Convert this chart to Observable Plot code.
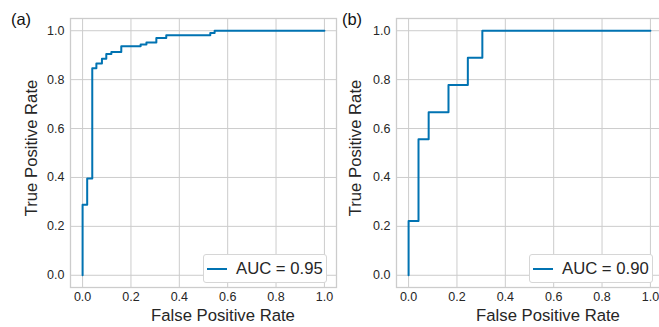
<!DOCTYPE html>
<html><head><meta charset="utf-8">
<script src="https://cdn.jsdelivr.net/npm/d3@7"></script>
<script src="https://cdn.jsdelivr.net/npm/@observablehq/plot@0.6"></script>
<style>
html,body{margin:0;padding:0;background:#fff;overflow:hidden;}
#wrap{position:relative;width:659px;height:327px;overflow:hidden;font-family:"Liberation Sans",Arial,sans-serif;}
.panel{position:absolute;top:0;}
.legend{position:absolute;box-sizing:border-box;border:1px solid #d6d6d6;border-radius:3px;background:#fff;display:flex;align-items:center;font-size:16.7px;color:#262626;white-space:nowrap;}
.legend .swatch{width:20px;height:2px;background:#0173b2;margin-left:3px;margin-right:9px;}
.title{position:absolute;font-size:16.7px;line-height:1;color:#262626;white-space:nowrap;}
.tag{position:absolute;font-size:16.5px;line-height:1;color:#111;white-space:nowrap;}
</style></head><body><div id="wrap"></div>
<script>
// Panel (a)
const fprA = [0, 0, 0.019, 0.019, 0.04, 0.04, 0.057, 0.057, 0.08, 0.08, 0.098, 0.098, 0.119, 0.119, 0.16, 0.16, 0.24, 0.24, 0.264, 0.264, 0.305, 0.305, 0.346, 0.346, 0.528, 0.528, 0.546, 0.546, 1];
const tprA = [0, 0.288, 0.288, 0.396, 0.396, 0.847, 0.847, 0.866, 0.866, 0.885, 0.885, 0.905, 0.905, 0.913, 0.913, 0.937, 0.937, 0.944, 0.944, 0.952, 0.952, 0.970, 0.970, 0.982, 0.982, 0.991, 0.991, 1, 1];
const aucA = "AUC = 0.95";
// Panel (b)
const fprB = [0, 0, 0.041, 0.041, 0.083, 0.083, 0.165, 0.165, 0.245, 0.245, 0.305, 0.305, 1];
const tprB = [0, 0.222, 0.222, 0.556, 0.556, 0.667, 0.667, 0.778, 0.778, 0.889, 0.889, 1, 1];
const aucB = "AUC = 0.90";

const ticks = [0, 0.2, 0.4, 0.6, 0.8, 1.0];
const xTitle = "False Positive Rate";
const yTitle = "True Positive Rate";
const lineColor = "#0173b2";
const font = "Liberation Sans, Arial, sans-serif";

function panel({fpr, tpr, width, marginLeft, marginRight}) {
  const data = fpr.map((x, i) => ({fpr: x, tpr: tpr[i]}));
  return Plot.plot({
    width, height: 327, marginLeft, marginRight, marginTop: 18, marginBottom: 40,
    style: {fontFamily: font, background: "transparent", color: "#262626", overflow: "visible"},
    x: {domain: [-0.05, 1.05]},
    y: {domain: [-0.05, 1.05]},
    marks: [
      Plot.gridX(ticks, {stroke: "#cccccc", strokeOpacity: 1, strokeWidth: 1}),
      Plot.gridY(ticks, {stroke: "#cccccc", strokeOpacity: 1, strokeWidth: 1}),
      Plot.frame({stroke: "#cccccc", strokeWidth: 1.3}),
      Plot.axisX(ticks, {tickSize: 0, tickPadding: 5, tickFormat: d3.format(".1f"), fontSize: 12.5, label: null}),
      Plot.axisY(ticks, {tickSize: 0, tickPadding: 6, tickFormat: d3.format(".1f"), fontSize: 12.5, label: null}),
      Plot.line(data, {x: "fpr", y: "tpr", stroke: lineColor, strokeWidth: 2, strokeLinejoin: "round"})
    ]
  });
}

const wrap = document.getElementById("wrap");
const a = panel({fpr: fprA, tpr: tprA, width: 340, marginLeft: 70, marginRight: 4});
a.classList.add("panel"); a.style.left = "0px";
wrap.appendChild(a);
const b = panel({fpr: fprB, tpr: tprB, width: 335, marginLeft: 66, marginRight: 3});
b.classList.add("panel"); b.style.left = "330px";
wrap.appendChild(b);

function label(text, cx, cy, rotate, cls) {
  const d = document.createElement("div");
  d.className = cls || "title";
  d.textContent = text;
  Object.assign(d.style, {left: cx + "px", top: cy + "px",
    transform: "translate(-50%,-50%)" + (rotate ? " rotate(-90deg)" : "")});
  wrap.appendChild(d);
}
label(xTitle, 223, 316, false);
label(xTitle, 548, 316, false);
label(yTitle, 32, 148, true);
label(yTitle, 356, 148, true);
label("(a)", 21, 19, false, "tag");
label("(b)", 352, 19, false, "tag");

function legend(text, left) {
  const d = document.createElement("div");
  d.className = "legend";
  Object.assign(d.style, {left: left + "px", top: "254px", width: "124px", height: "29px"});
  const s = document.createElement("div"); s.className = "swatch";
  const t = document.createElement("span"); t.textContent = text;
  d.appendChild(s); d.appendChild(t);
  wrap.appendChild(d);
}
legend(aucA, 203);
legend(aucB, 529);
</script></body></html>
